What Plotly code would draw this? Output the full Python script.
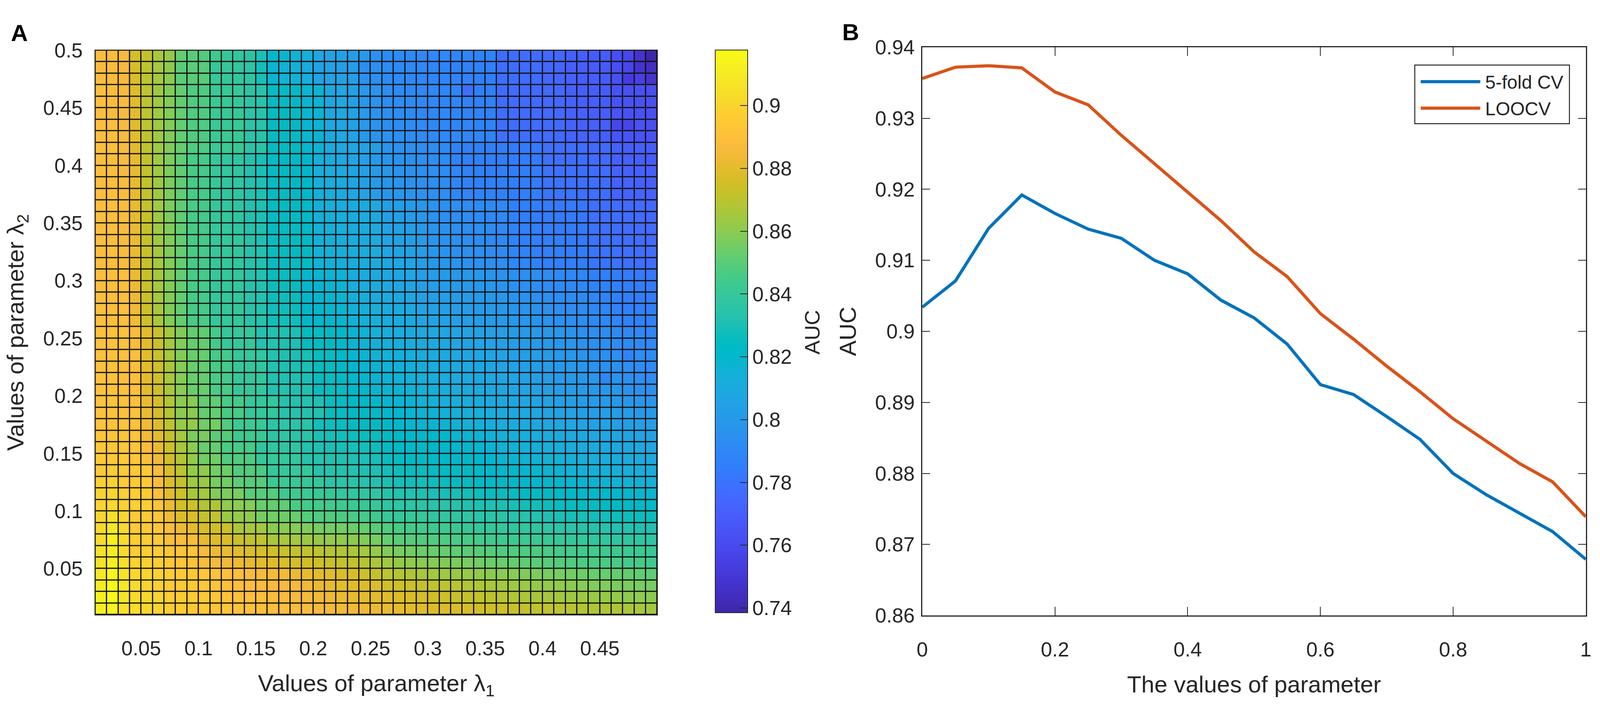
import numpy as np
import plotly.graph_objects as go

# ---- panel A: AUC over the (lambda1, lambda2) grid ----
# grid points of lambda1 / lambda2 (cell edges, pcolor style)
lambda_edges = [round(0.01 * k, 2) for k in range(1, 51)]

# AUC x 1000, one row per lambda2 step (bottom row = 0.01), columns = lambda1 0.01 .. 0.49
auc_grid = [
    [912,915,906,903,901,900,897,896,895,895,893,893,892,891,890,889,889,888,888,886,885,884,884,883,882,
     882,881,880,879,878,878,877,876,875,874,874,873,872,871,871,870,869,868,868,867,867,866,866,865],
    [913,917,907,903,901,900,897,896,895,894,893,892,891,890,889,888,887,886,885,884,883,882,881,880,880,
     879,878,877,876,875,874,873,872,871,870,869,868,867,866,866,865,864,864,863,862,862,861,861,860],
    [910,918,908,903,900,899,896,895,895,894,892,891,890,889,888,887,886,885,884,882,881,880,879,878,878,
     875,874,873,872,871,870,869,868,867,866,865,864,863,862,862,861,860,859,858,858,857,857,856,856],
    [908,915,907,901,900,899,896,895,894,893,891,890,889,887,886,885,884,882,881,880,879,877,876,874,872,
     870,868,867,866,865,864,863,862,861,860,860,859,858,857,856,856,855,854,853,853,852,852,851,851],
    [905,912,905,899,898,897,894,893,892,888,886,885,883,881,880,879,877,876,875,874,873,872,871,869,867,
     864,862,861,860,859,858,857,856,855,854,853,852,851,850,849,849,848,847,847,846,846,845,845,844],
    [905,912,903,897,897,896,893,892,893,886,883,882,880,877,876,875,873,872,871,870,869,868,867,865,862,
     858,856,855,854,853,852,851,850,849,849,848,848,847,847,846,845,845,844,844,843,843,842,842,841],
    [903,913,903,897,896,895,889,888,888,880,878,877,873,872,871,866,866,865,863,862,862,861,860,858,856,
     852,850,849,848,848,847,846,846,845,844,843,843,842,842,841,840,839,839,838,838,837,837,836,836],
    [902,908,902,895,895,894,888,883,881,876,875,874,867,866,865,860,860,859,858,856,855,855,854,852,850,
     848,846,845,844,843,843,842,841,840,840,839,838,838,837,836,835,835,834,833,833,832,832,831,831],
    [900,905,900,895,895,894,884,878,877,872,871,863,862,861,856,855,854,853,849,848,848,847,846,845,843,
     841,840,840,839,838,838,837,836,835,835,834,833,833,832,831,830,829,829,828,828,827,827,826,826],
    [900,902,898,898,897,893,882,875,874,868,867,861,860,859,853,852,851,846,845,845,844,843,842,841,840,
     837,836,836,835,834,834,833,832,831,831,830,829,828,828,827,826,826,825,825,824,824,823,823,822],
    [900,900,897,897,896,890,880,874,866,865,858,857,856,850,849,849,843,843,842,841,840,838,838,837,836,
     833,832,832,831,830,829,829,828,827,826,826,825,824,824,823,822,822,821,821,820,820,819,819,818],
    [898,898,895,895,895,888,878,872,864,863,856,855,850,849,849,842,842,841,840,840,835,835,834,833,832,
     830,829,828,828,827,826,825,825,824,823,822,822,821,820,820,819,818,818,817,817,816,816,815,815],
    [895,896,895,895,894,887,877,870,862,861,855,854,848,848,847,840,840,839,839,833,833,832,832,831,830,
     828,827,826,826,825,824,823,823,822,821,820,820,819,818,817,817,816,815,815,814,814,813,813,812],
    [895,895,895,894,890,884,875,868,862,855,855,848,848,847,840,840,839,839,833,833,832,832,831,830,829,
     826,825,824,824,823,822,821,821,820,819,818,818,817,816,815,815,814,813,813,812,812,811,811,810],
    [894,894,894,893,888,882,874,866,860,853,852,846,846,845,838,838,837,837,832,831,830,829,829,828,827,
     824,823,822,822,821,820,820,819,818,817,816,816,815,814,813,812,812,811,810,810,809,809,808,808],
    [893,893,893,892,885,880,872,865,857,857,850,849,843,843,842,836,836,835,835,830,829,828,827,826,826,
     823,822,821,820,820,819,818,817,816,815,814,814,813,812,811,810,809,809,808,807,807,806,806,805],
    [892,892,892,891,884,878,870,862,862,855,855,848,842,842,841,835,835,834,834,828,827,826,825,824,824,
     821,820,819,818,818,817,816,815,814,813,812,811,810,809,808,808,807,806,805,805,804,804,803,803],
    [892,892,891,891,882,876,868,860,860,852,852,846,846,840,840,839,833,833,832,832,826,825,824,823,823,
     820,819,818,817,817,816,815,814,813,812,811,810,809,808,807,806,805,804,803,803,802,801,801,800],
    [891,892,891,890,882,876,868,860,859,852,851,846,845,840,839,839,833,832,832,831,826,825,823,822,821,
     819,818,817,816,815,814,813,812,811,810,809,808,807,806,805,804,803,802,801,800,799,799,798,798],
    [891,891,891,890,880,874,866,860,853,853,846,846,840,840,839,832,832,831,831,826,826,825,821,820,819,
     818,817,816,815,814,813,812,811,810,809,808,807,806,805,804,803,802,801,800,799,798,797,796,795],
    [891,891,890,890,880,874,866,859,853,852,846,845,840,839,839,832,831,831,830,826,825,824,820,819,818,
     817,816,815,814,813,812,811,810,809,808,807,806,805,804,803,801,800,799,798,789,797,795,794,793],
    [891,891,890,889,880,874,866,859,853,852,846,845,840,839,838,832,831,830,830,826,825,823,819,818,817,
     816,815,814,813,812,811,810,809,808,807,806,805,804,803,802,801,800,798,797,796,795,794,793,792],
    [891,891,890,889,880,873,865,858,853,852,845,845,840,839,838,832,831,830,829,826,825,822,818,817,816,
     815,814,813,812,811,810,809,808,807,806,805,804,803,802,801,800,799,797,796,795,794,788,793,792],
    [891,891,891,888,880,873,865,858,852,852,845,840,840,839,832,832,831,830,825,825,824,821,817,816,815,
     814,813,812,811,810,809,808,807,806,805,804,803,802,801,800,799,798,796,795,794,793,792,791,790],
    [891,891,891,888,880,873,865,858,852,851,845,840,840,839,832,832,831,830,825,825,824,821,817,816,815,
     813,812,811,810,809,808,807,806,805,804,803,802,801,800,799,798,797,795,794,793,792,791,790,789],
    [890,890,890,884,874,866,858,852,846,846,840,840,839,834,833,828,828,827,821,820,820,819,815,815,814,
     812,811,810,807,806,805,804,803,802,801,800,799,798,797,796,795,794,793,791,790,789,788,787,786],
    [890,890,890,884,874,866,858,852,846,845,840,840,839,834,833,828,827,826,821,820,819,818,815,814,813,
     811,810,809,806,805,804,803,802,801,800,799,798,797,796,795,794,793,792,790,789,788,787,786,785],
    [889,890,890,883,873,865,858,852,846,845,840,839,838,834,833,827,827,826,820,819,818,818,814,813,812,
     810,809,808,805,804,803,802,801,800,799,798,797,796,795,794,793,792,791,789,788,787,786,785,784],
    [889,890,889,883,873,865,858,852,846,845,840,839,838,833,832,827,826,825,820,819,818,817,813,812,811,
     809,808,807,804,803,802,801,800,799,798,797,796,795,794,793,792,791,790,788,787,786,785,784,783],
    [889,889,889,882,872,865,858,852,846,845,840,839,838,833,832,826,826,825,819,818,817,817,812,811,810,
     808,807,806,803,802,801,800,799,798,797,796,795,794,793,792,791,790,789,787,786,785,784,783,782],
    [889,889,888,882,872,865,858,852,846,845,840,839,838,833,832,826,825,825,824,816,815,814,813,812,811,
     808,807,806,804,799,798,797,796,795,794,793,790,789,788,787,786,786,785,782,781,780,779,779,778],
    [889,889,888,882,872,865,858,852,846,845,840,839,838,833,832,826,825,824,824,815,815,814,813,812,811,
     807,806,805,803,798,797,796,795,794,793,792,789,788,787,786,786,785,784,781,780,779,779,778,777],
    [889,889,888,882,872,864,858,852,846,845,840,839,838,833,831,826,825,824,823,815,814,813,812,811,810,
     806,805,804,802,797,796,795,794,793,792,791,788,787,786,786,785,784,783,780,779,779,778,777,776],
    [889,889,888,882,872,864,858,851,846,845,840,839,837,832,831,825,825,824,823,815,814,813,812,811,810,
     805,804,803,801,797,796,795,794,793,792,791,788,787,786,785,784,784,783,780,779,778,777,777,776],
    [889,889,888,881,872,864,857,851,846,845,840,839,837,832,831,825,824,824,823,814,814,813,812,811,810,
     804,803,802,800,796,795,794,793,792,791,790,787,786,785,785,784,783,782,779,778,778,777,776,775],
    [889,889,888,881,871,864,857,851,846,845,840,838,837,832,831,825,824,823,822,814,813,812,811,810,809,
     803,802,801,799,796,795,794,793,792,791,790,787,786,785,784,783,783,782,779,778,777,776,776,775],
    [889,889,888,881,871,864,857,851,846,845,840,838,837,832,831,825,824,823,822,814,813,811,808,805,802,
     799,798,797,796,795,794,790,789,788,788,787,786,786,785,781,780,780,779,779,778,773,772,772,771],
    [889,889,888,881,871,864,857,851,846,845,840,838,837,832,831,825,824,823,821,814,812,810,807,804,801,
     798,797,796,795,794,793,789,788,787,787,786,786,785,784,780,780,779,779,778,777,772,772,771,770],
    [889,889,887,881,871,864,857,851,846,845,840,838,837,832,830,825,824,823,821,813,812,810,807,804,801,
     798,797,796,795,794,793,789,788,787,786,786,785,785,784,780,779,779,778,778,777,772,771,771,770],
    [889,889,887,881,871,864,857,851,846,845,840,838,837,832,830,825,823,822,821,813,811,809,806,803,800,
     797,796,795,794,793,792,788,787,787,786,785,785,784,783,779,779,778,778,777,776,771,771,770,769],
    [889,889,887,880,870,864,858,852,848,847,842,842,841,835,834,825,824,824,818,817,810,809,808,805,804,
     797,796,795,794,793,792,788,787,786,786,785,784,784,783,779,778,778,777,776,776,771,770,770,769],
    [889,889,887,880,870,864,858,852,848,847,842,842,841,835,834,825,824,824,818,817,810,808,805,800,797,
     795,794,793,792,791,790,790,789,789,788,779,778,778,777,777,776,772,772,771,770,765,765,764,764],
    [889,889,887,880,870,864,858,852,848,847,842,841,841,835,834,825,824,823,818,817,809,808,805,800,797,
     794,793,793,792,791,790,789,789,788,788,778,778,777,777,776,776,772,771,771,770,758,757,764,763],
    [889,888,887,880,870,864,858,852,848,847,842,841,840,835,834,825,824,823,818,817,809,808,805,800,797,
     794,793,792,791,790,790,789,788,788,787,778,777,777,776,776,775,771,771,770,770,765,764,764,763],
    [889,888,887,879,870,864,858,852,848,847,842,841,840,835,834,825,824,823,818,817,809,808,804,800,797,
     793,793,792,791,790,789,789,788,787,787,777,777,776,776,775,775,771,770,770,769,764,764,763,763],
    [889,888,887,878,870,864,858,852,848,847,842,841,840,835,834,825,824,823,818,817,809,808,804,800,797,
     793,792,791,790,790,789,789,778,787,786,777,777,776,776,775,775,771,770,770,769,764,763,763,762],
    [888,888,886,877,870,865,860,850,850,849,841,840,838,836,829,818,816,815,813,805,805,804,803,796,795,
     792,792,791,790,789,789,788,788,787,786,779,778,778,777,775,774,771,770,770,769,763,752,755,748],
    [888,888,886,877,870,865,860,850,850,849,840,840,838,835,828,818,816,815,812,805,805,804,802,795,795,
     792,791,791,790,789,788,788,787,787,786,778,778,777,777,775,774,770,770,769,768,762,758,748,745],
    [888,888,886,876,872,866,862,852,850,848,843,840,838,835,830,820,818,816,814,808,805,805,802,800,795,
     792,792,791,791,790,790,789,789,788,788,778,778,777,777,775,775,770,770,769,769,762,758,748,739],
]
auc = np.array(auc_grid) / 1000.0

a_xtick_vals = [0.05, 0.1, 0.15, 0.2, 0.25, 0.3, 0.35, 0.4, 0.45]
a_xtick_text = ["0.05", "0.1", "0.15", "0.2", "0.25", "0.3", "0.35", "0.4", "0.45"]
a_ytick_vals = [0.05, 0.1, 0.15, 0.2, 0.25, 0.3, 0.35, 0.4, 0.45, 0.5]
a_ytick_text = ["0.05", "0.1", "0.15", "0.2", "0.25", "0.3", "0.35", "0.4", "0.45", "0.5"]
cbar_tick_vals = [0.74, 0.76, 0.78, 0.8, 0.82, 0.84, 0.86, 0.88, 0.9]
cbar_tick_text = ["0.74", "0.76", "0.78", "0.8", "0.82", "0.84", "0.86", "0.88", "0.9"]

# ---- panel B: AUC vs parameter ----
param_values = [0, 0.05, 0.1, 0.15, 0.2, 0.25, 0.3, 0.35, 0.4, 0.45, 0.5,
                0.55, 0.6, 0.65, 0.7, 0.75, 0.8, 0.85, 0.9, 0.95, 1.0]
auc_5fold = [0.9034, 0.9071, 0.9145, 0.9192, 0.9166, 0.9144, 0.9131, 0.9100, 0.9081, 0.9044, 0.9019,
             0.8982, 0.8925, 0.8911, 0.8880, 0.8848, 0.8800, 0.8770, 0.8744, 0.8718, 0.8679]
auc_loocv = [0.9356, 0.9372, 0.9374, 0.9371, 0.9337, 0.9319, 0.9276, 0.9236, 0.9196, 0.9156, 0.9112,
             0.9077, 0.9025, 0.8989, 0.8951, 0.8915, 0.8877, 0.8846, 0.8814, 0.8788, 0.8739]
b_xtick_vals = [0, 0.2, 0.4, 0.6, 0.8, 1]
b_xtick_text = ["0", "0.2", "0.4", "0.6", "0.8", "1"]
b_ytick_vals = [0.86, 0.87, 0.88, 0.89, 0.9, 0.91, 0.92, 0.93, 0.94]
b_ytick_text = ["0.86", "0.87", "0.88", "0.89", "0.9", "0.91", "0.92", "0.93", "0.94"]

# parula colormap (MATLAB)
parula = [
    (0.2422,0.1504,0.6603),(0.2504,0.1650,0.7076),(0.2578,0.1818,0.7511),(0.2647,0.1978,0.7952),
    (0.2706,0.2147,0.8364),(0.2751,0.2342,0.8710),(0.2783,0.2559,0.8991),(0.2803,0.2782,0.9221),
    (0.2813,0.3006,0.9414),(0.2810,0.3228,0.9579),(0.2795,0.3447,0.9717),(0.2760,0.3667,0.9829),
    (0.2699,0.3892,0.9906),(0.2602,0.4123,0.9952),(0.2440,0.4358,0.9988),(0.2206,0.4603,0.9973),
    (0.1963,0.4847,0.9892),(0.1834,0.5074,0.9798),(0.1786,0.5289,0.9682),(0.1764,0.5499,0.9520),
    (0.1687,0.5703,0.9359),(0.1540,0.5902,0.9218),(0.1460,0.6091,0.9079),(0.1380,0.6276,0.8973),
    (0.1248,0.6459,0.8883),(0.1113,0.6635,0.8763),(0.0952,0.6798,0.8598),(0.0689,0.6948,0.8394),
    (0.0297,0.7082,0.8163),(0.0036,0.7203,0.7917),(0.0067,0.7312,0.7660),(0.0433,0.7411,0.7394),
    (0.0964,0.7500,0.7120),(0.1408,0.7584,0.6842),(0.1717,0.7670,0.6554),(0.1938,0.7758,0.6251),
    (0.2161,0.7843,0.5923),(0.2470,0.7918,0.5567),(0.2906,0.7973,0.5188),(0.3406,0.8008,0.4789),
    (0.3909,0.8029,0.4354),(0.4456,0.8024,0.3909),(0.5044,0.7993,0.3480),(0.5616,0.7942,0.3045),
    (0.6174,0.7876,0.2612),(0.6720,0.7793,0.2227),(0.7242,0.7698,0.1910),(0.7738,0.7598,0.1646),
    (0.8203,0.7498,0.1535),(0.8634,0.7406,0.1596),(0.9035,0.7330,0.1774),(0.9393,0.7288,0.2100),
    (0.9728,0.7298,0.2394),(0.9956,0.7434,0.2371),(0.9970,0.7659,0.2199),(0.9952,0.7893,0.2028),
    (0.9892,0.8136,0.1885),(0.9786,0.8386,0.1766),(0.9676,0.8639,0.1643),(0.9610,0.8890,0.1537),
    (0.9597,0.9135,0.1423),(0.9628,0.9373,0.1265),(0.9691,0.9606,0.1064),(0.9769,0.9839,0.0805),
]
parula_scale = [[i / (len(parula) - 1), "rgb(%d,%d,%d)" % tuple(round(c * 255) for c in rgb)]
                for i, rgb in enumerate(parula)]

# the page viewport is 4096 px wide; positions are measured on the 4562 x 1817 original
W, H = 4096, 1817
REF_W = 4562
def px(x):  # original pixel -> paper x
    return x / REF_W
def py(y):  # original pixel (from top) -> paper y
    return (H - y) / H
sx = W / REF_W  # horizontal shrink for pixel-sized things

AXC = "#262626"
FONT = "Arial, Liberation Sans, sans-serif"
blue = "#0072BD"
orange = "#D95319"

fig = go.Figure()

fig.add_trace(go.Heatmap(
    x=lambda_edges, y=lambda_edges, z=auc,
    colorscale=parula_scale, zmin=0.7385, zmax=0.9177,
    xgap=3, ygap=3, xaxis="x", yaxis="y",
    colorbar=dict(
        x=px(2038), xanchor="left", xpad=0, ypad=0,
        y=py(846), yanchor="middle", len=1487 / H, lenmode="fraction",
        thickness=round(92 * sx), outlinewidth=2, outlinecolor=AXC,
        ticks="inside", ticklen=20, tickwidth=2, tickcolor=AXC,
        tickvals=cbar_tick_vals, ticktext=cbar_tick_text, tickprefix="\u00a0\u2009",
        tickfont=dict(size=52, color=AXC, family=FONT),
    ),
))

fig.add_trace(go.Scatter(x=param_values, y=auc_5fold, mode="lines", name="5-fold CV",
                         line=dict(color=blue, width=8), xaxis="x2", yaxis="y2"))
fig.add_trace(go.Scatter(x=param_values, y=auc_loocv, mode="lines", name="LOOCV",
                         line=dict(color=orange, width=8), xaxis="x2", yaxis="y2"))

fig.update_layout(
    width=W, height=H, margin=dict(l=0, r=0, t=0, b=0),
    paper_bgcolor="white", plot_bgcolor="white", showlegend=False,
    font=dict(family=FONT, color=AXC),
    xaxis=dict(
        domain=[px(258), px(1871)], range=[0.01, 0.5], anchor="y",
        tickvals=a_xtick_vals, ticktext=a_xtick_text, tickfont=dict(size=52),
        ticks="", ticklabelstandoff=40, showgrid=False, zeroline=False,
        showline=True, linecolor=AXC, linewidth=2, mirror=True,
        title=dict(text="Values of parameter λ<sub>1</sub>", font=dict(size=60), standoff=40),
    ),
    yaxis=dict(
        domain=[py(1595), py(103)], range=[0.01, 0.5], anchor="x",
        tickvals=a_ytick_vals, ticktext=a_ytick_text, tickfont=dict(size=52),
        ticks="", ticklabelstandoff=20, showgrid=False, zeroline=False,
        showline=True, linecolor=AXC, linewidth=2, mirror=True,
        title=dict(text="Values of parameter λ<sub>2</sub>", font=dict(size=60), standoff=30),
    ),
    xaxis2=dict(
        domain=[px(2632), px(4537)], range=[0, 1], anchor="y2",
        tickvals=b_xtick_vals, ticktext=b_xtick_text, tickfont=dict(size=52),
        ticks="inside", ticklen=22, tickwidth=2, tickcolor=AXC, ticklabelstandoff=40,
        showgrid=False, zeroline=False,
        showline=True, linecolor=AXC, linewidth=3, mirror="ticks",
        title=dict(text="The values of parameter", font=dict(size=60), standoff=40),
    ),
    yaxis2=dict(
        domain=[py(1597), py(95)], range=[0.86, 0.94], anchor="x2",
        tickvals=b_ytick_vals, ticktext=b_ytick_text, tickfont=dict(size=52),
        ticks="inside", ticklen=20, tickwidth=2, tickcolor=AXC, ticklabelstandoff=6,
        showgrid=False, zeroline=False,
        showline=True, linecolor=AXC, linewidth=3, mirror="ticks",
        title=dict(text="AUC", font=dict(size=60), standoff=30),
    ),
)

# black edge lines of the pcolor grid show through the cell gaps
fig.add_shape(type="rect", xref="x", yref="y", x0=0.01, x1=0.5, y0=0.01, y1=0.5,
              fillcolor="#111111", line=dict(width=0), layer="below")

# colorbar label
fig.add_annotation(x=px(2316), y=py(848), xref="paper", yref="paper", text="AUC",
                   xanchor="center", yanchor="middle", textangle=-90, showarrow=False,
                   font=dict(size=54, color=AXC))

# panel letters
fig.add_annotation(x=px(40), y=py(57), xref="paper", yref="paper", text="<b>A</b>",
                   xanchor="center", yanchor="middle", showarrow=False,
                   font=dict(size=60, color="black"))
fig.add_annotation(x=px(2426), y=py(55), xref="paper", yref="paper", text="<b>B</b>",
                   xanchor="center", yanchor="middle", showarrow=False,
                   font=dict(size=60, color="black"))

# legend box (MATLAB style, long line samples)
fig.add_shape(type="rect", xref="paper", yref="paper", x0=px(4046), x1=px(4490),
              y0=py(297), y1=py(142), fillcolor="white", line=dict(color=AXC, width=2.5))
for name, color, ypix in [("5-fold CV", blue, 186), ("LOOCV", orange, 256)]:
    fig.add_shape(type="line", xref="paper", yref="paper", x0=px(4063), x1=px(4234),
                  y0=py(ypix), y1=py(ypix), line=dict(color=color, width=8))
    fig.add_annotation(x=px(4246), y=py(ypix + 2), xref="paper", yref="paper", text=name,
                       xanchor="left", yanchor="middle", showarrow=False,
                       font=dict(size=48, color=AXC))

fig.write_html("out.html", config={"displayModeBar": False},
               post_script="document.body.style.margin = '0';")
